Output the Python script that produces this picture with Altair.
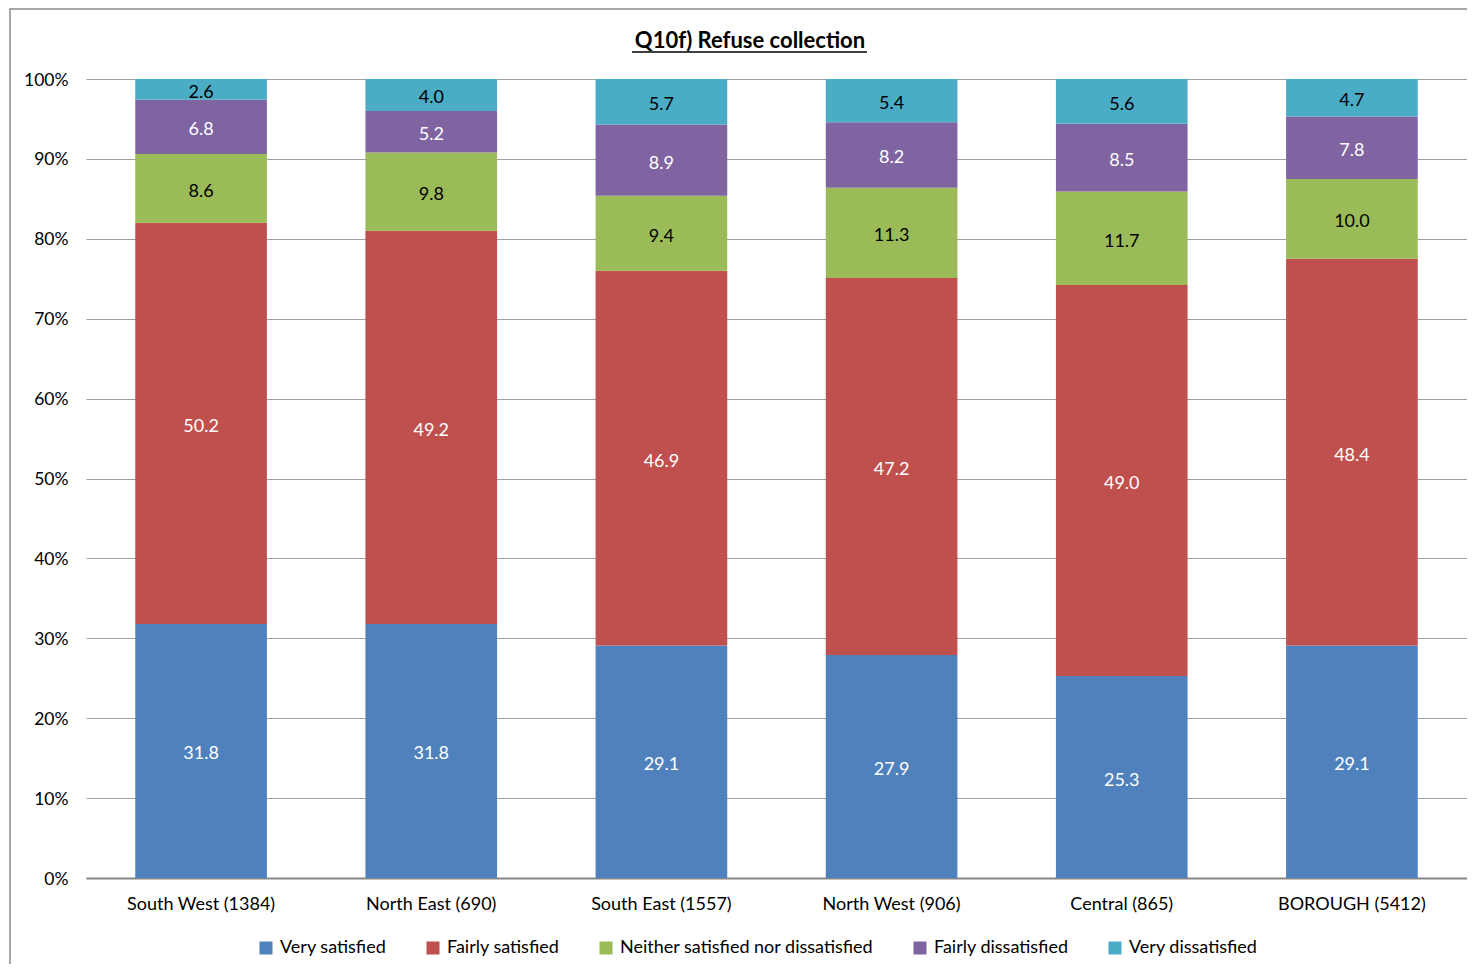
import altair as alt
import pandas as pd

regions = ["South West (1384)", "North East (690)", "South East (1557)",
           "North West (906)", "Central (865)", "BOROUGH (5412)"]
series = ["Very satisfied", "Fairly satisfied", "Neither satisfied nor dissatisfied",
          "Fairly dissatisfied", "Very dissatisfied"]
very_sat = [31.8, 31.8, 29.1, 27.9, 25.3, 29.1]
fairly_sat = [50.2, 49.2, 46.9, 47.2, 49.0, 48.4]
neither = [8.6, 9.8, 9.4, 11.3, 11.7, 10.0]
fairly_dis = [6.8, 5.2, 8.9, 8.2, 8.5, 7.8]
very_dis = [2.6, 4.0, 5.7, 5.4, 5.6, 4.7]
colors = ["#4F81BD", "#C0504D", "#9BBB59", "#8064A2", "#4BACC6"]
y_ticks = [0, 0.1, 0.2, 0.3, 0.4, 0.5, 0.6, 0.7, 0.8, 0.9, 1.0]
title_text = "Q10f) Refuse collection"

rows = []
for i, vals in enumerate([very_sat, fairly_sat, neither, fairly_dis, very_dis]):
    for r, v in zip(regions, vals):
        rows.append({"region": r, "series": series[i], "ord": i, "value": v})
df = pd.DataFrame(rows)

FONT = "Lato"
W, H = 1381, 799

base = alt.Chart(df)

bars = base.mark_bar().encode(
    x=alt.X("region:N", sort=regions, title=None,
            scale=alt.Scale(paddingInner=0.428, paddingOuter=0.214),
            axis=alt.Axis(labelAngle=0, labelFontSize=18, labelFont=FONT, labelColor="black",
                          ticks=False, labelPadding=17, domainColor="#868686", domainWidth=2,
                          labelLimit=400)),
    y=alt.Y("value:Q", stack="normalize", title=None,
            scale=alt.Scale(domain=[0, 1]),
            axis=alt.Axis(format="%", values=y_ticks, labelFontSize=17.5, labelFont=FONT,
                          labelColor="black", ticks=False, labelPadding=18, domain=False,
                          grid=True, gridColor="#A0A0A0", gridWidth=1, labelBaseline="middle",
                          labelOffset=1)),
    color=alt.Color("series:N", sort=series,
                    scale=alt.Scale(domain=series, range=colors),
                    legend=alt.Legend(title=None, orient="none", direction="horizontal",
                                      legendX=171, legendY=860, symbolType="square",
                                      symbolSize=169, symbolStrokeWidth=0,
                                      labelFontSize=18, labelFont=FONT, labelColor="black",
                                      columnPadding=37, labelOffset=5, labelLimit=600)),
    order=alt.Order("ord:Q", sort="ascending"),
)

labels = base.transform_stack(
    stack="value", groupby=["region"], as_=["v0", "v1"], offset="normalize",
    sort=[alt.SortField("ord", order="ascending")]
).transform_calculate(
    mid="(datum.v0 + datum.v1) / 2"
).mark_text(fontSize=18, font=FONT, baseline="middle", align="center", dy=3.5).encode(
    x=alt.X("region:N", sort=regions),
    y=alt.Y("mid:Q"),
    text=alt.Text("value:Q", format=".1f"),
    color=alt.condition(
        "datum.series == 'Neither satisfied nor dissatisfied' || datum.series == 'Very dissatisfied'",
        alt.value("black"), alt.value("white")),
)

one = alt.Data(values=[{"t": title_text}])

frame = alt.Chart(one).mark_rect(fill=None, stroke="#8C8C8C", strokeWidth=1.5).encode(
    x=alt.value(-76), x2=alt.value(1430), y=alt.value(-70), y2=alt.value(920))

title = alt.Chart(one).mark_text(font=FONT, fontSize=22, fontWeight="bold",
                                 align="center", baseline="alphabetic", color="black").encode(
    x=alt.value(664), y=alt.value(-31), text="t:N")

underline = alt.Chart(one).mark_rule(color="black", strokeWidth=1.5).encode(
    x=alt.value(546), x2=alt.value(781), y=alt.value(-27))

chart = alt.layer(frame, bars, labels, title, underline).resolve_scale(
    color="independent"
).properties(
    width=W, height=H,
    autosize=alt.AutoSizeParams(type="none"),
    padding={"left": 78, "top": 71, "right": 0, "bottom": 86},
).configure_view(stroke=None)

chart.save("out.html", embed_options={"renderer": "svg", "actions": False})
